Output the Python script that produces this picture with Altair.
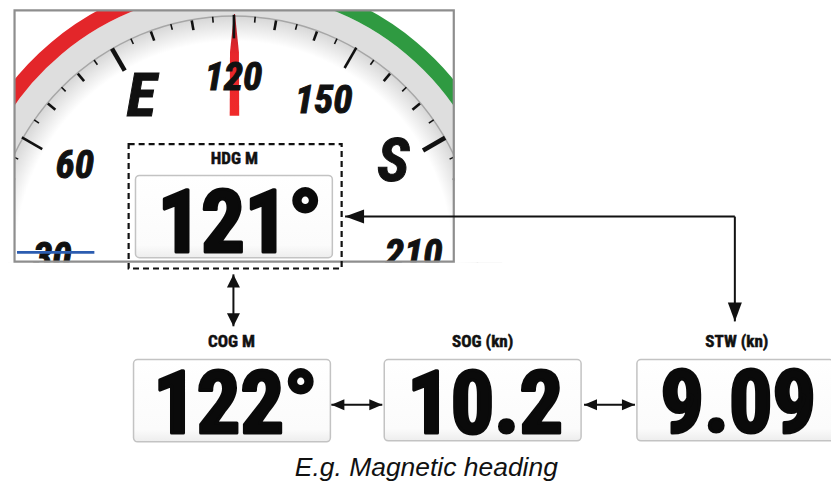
import math
import altair as alt
import pandas as pd

# ---------------- data (values shown in the illustration) ----------------
heading_value = 121
dial_labels = ["30", "60", "E", "120", "150", "S", "210"]
dial_label_headings = [30, 60, 90, 120, 150, 180, 210]
tick_headings = list(range(25, 220, 5))
readout_names = ["HDG M", "COG M", "SOG (kn)", "STW (kn)"]
readout_values = ["121°", "122°", "10.2", "9.09"]
caption_text = ["E.g. Magnetic heading"]

# ---------------- layout (reference pixel space, y downwards) ----------------
W, H = 823, 474
S = 474 / 484.0
YD = [3, 487]
XC = 423
XD = [XC - W / S / 2, XC + W / S / 2]
CX, CY = 233.5, 260.0

NARROW = "Liberation Sans Narrow, Arial Narrow, Roboto Condensed, DejaVu Sans Condensed, sans-serif"
SANS = "Liberation Sans, Arial, sans-serif"

xs = alt.Scale(domain=XD, nice=False, zero=False)
ys = alt.Scale(domain=YD, nice=False, zero=False, reverse=True)


def X(f):
    return alt.X(f, type="quantitative", scale=xs, axis=None)


def Y(f):
    return alt.Y(f, type="quantitative", scale=ys, axis=None)


def X2(f):
    return alt.X2(f)


def Y2(f):
    return alt.Y2(f)


center = pd.DataFrame({"x": [CX], "y": [CY]})


def arc(r_out, r_in, t0, t1, fill):
    return alt.Chart(center).mark_arc(
        radius=r_out * S, radius2=r_in * S,
        theta=math.radians(t0), theta2=math.radians(t1),
        fill=fill, strokeWidth=0, clip=True,
    ).encode(x=X("x"), y=Y("y"))


layers = []

# dial body
layers.append(arc(274, 0, 0, 360, "#dedede"))
layers.append(arc(290, 274, 300, 340, "#e3262a"))
layers.append(arc(290, 274, 20, 60, "#2f9a41"))
layers.append(arc(249.5, 0, 0, 360, "#a6a6a6"))
dial_fill = alt.RadialGradient(
    gradient="radial",
    stops=[alt.GradientStop(offset=0, color="#ffffff"),
           alt.GradientStop(offset=0.9, color="#ffffff"),
           alt.GradientStop(offset=1, color="#d8d8d8")],
    x1=0.5, y1=0.5, r1=0, x2=0.5, y2=0.5, r2=0.5)
layers.append(arc(248, 0, 0, 360, dial_fill))

# needle
needle = pd.DataFrame({"y": [9, 48, 113], "xl": [233.6, 229.5, 229.2], "xr": [234.6, 238.6, 238.9]})
needle_fill = alt.LinearGradient(
    gradient="linear",
    stops=[alt.GradientStop(offset=0, color="#a8202a"),
           alt.GradientStop(offset=0.4, color="#e8262b"),
           alt.GradientStop(offset=1, color="#f02a2a")],
    x1=0, y1=0, x2=0, y2=1)
layers.append(alt.Chart(needle).mark_area(orient="horizontal", fill=needle_fill, clip=True)
              .encode(y=Y("y"), x=X("xl"), x2=X2("xr")))

# ticks
rows = []
for h in tick_headings:
    if h % 90 == 0:
        r0, r1, w = 223, 249, 4.5
    elif h % 30 == 0:
        r0, r1, w = 226, 250, 2.6
    elif h % 10 == 0:
        r0, r1, w = 238, 248, 2.6
    else:
        r0, r1, w = 243, 249, 1.6
    a = math.radians(h - 120)
    rows.append({"x": CX + r0 * math.sin(a), "y": CY - r0 * math.cos(a),
                 "x2": CX + r1 * math.sin(a), "y2": CY - r1 * math.cos(a), "w": w})
ticks = pd.DataFrame(rows)
layers.append(alt.Chart(ticks).mark_rule(color="#111111", strokeCap="butt", clip=True).encode(
    x=X("x"), y=Y("y"), x2=X2("x2"), y2=Y2("y2"),
    strokeWidth=alt.StrokeWidth("w:Q", scale=None)))

# dial labels (baseline positions)
label_pos_x = [48, 71, 139, 233, 325, 396, 417]
label_pos_y = [271, 177, 113, 87, 110, 180, 267]
label_size = [40, 40, 63, 40, 40, 63, 40]
dl = pd.DataFrame({"t": dial_labels, "h": dial_label_headings, "x": label_pos_x,
                   "y": label_pos_y, "s": [v * S for v in label_size]})
layers.append(alt.Chart(dl).mark_text(font=NARROW, fontWeight="bold", fontStyle="italic",
                                      align="center", baseline="alphabetic", color="#111111",
                                      stroke="#111111", strokeWidth=1, clip=True)
              .encode(x=X("x"), y=Y("y"), text="t:N", size=alt.Size("s:Q", scale=None)))

# blue course line
blue = pd.DataFrame({"x": [12], "x2": [91], "y": [252.5]})
layers.append(alt.Chart(blue).mark_rule(color="#2b5cb0", strokeWidth=2.6, clip=True)
              .encode(x=X("x"), x2=X2("x2"), y=Y("y")))

# white covers outside the gauge frame
covers = pd.DataFrame({
    "x": [XD[0] - 5, 458.5, XD[0] - 5, XD[0] - 5],
    "x2": [9.0, 560, 560, 560],
    "y": [YD[0] - 5, YD[0] - 5, YD[0] - 5, 262.5],
    "y2": [262.5, 262.5, 5.0, 600]})
layers.append(alt.Chart(covers).mark_rect(color="white", strokeWidth=0, clip=True)
              .encode(x=X("x"), x2=X2("x2"), y=Y("y"), y2=Y2("y2")))

# gauge frame
frame = pd.DataFrame({"x": [9.5], "x2": [458], "y": [5.5], "y2": [262]})
layers.append(alt.Chart(frame).mark_rect(fill="transparent", stroke="#8e8e8e", strokeWidth=2.2, clip=True)
              .encode(x=X("x"), x2=X2("x2"), y=Y("y"), y2=Y2("y2")))

# readout boxes
box_fill = alt.LinearGradient(
    gradient="linear",
    stops=[alt.GradientStop(offset=0, color="#ffffff"),
           alt.GradientStop(offset=0.85, color="#fbfbfb"),
           alt.GradientStop(offset=1, color="#ededed")],
    x1=0, y1=0, x2=0, y2=1)
boxes = pd.DataFrame({"name": readout_names,
                      "x": [133, 131, 387, 645], "x2": [334, 332, 588, 846],
                      "y": [174, 362, 362, 362], "y2": [258, 446, 445, 445]})
layers.append(alt.Chart(boxes).mark_rect(fill=box_fill, stroke="#c3c3c3", strokeWidth=1.5,
                                         cornerRadius=4, clip=True)
              .encode(x=X("x"), x2=X2("x2"), y=Y("y"), y2=Y2("y2")))

# dashed highlight box
dash = pd.DataFrame({"x": [126], "x2": [343.5], "y": [142], "y2": [269]})
layers.append(alt.Chart(dash).mark_rect(fill="transparent", stroke="#111111", strokeWidth=2.2,
                                        strokeDash=[6, 4], clip=True)
              .encode(x=X("x"), x2=X2("x2"), y=Y("y"), y2=Y2("y2")))

# readout names and values
names = pd.DataFrame({"t": readout_names, "x": [234, 231, 487.5, 747], "y": [162, 349, 349, 349]})
layers.append(alt.Chart(names).mark_text(font=NARROW, fontWeight="bold", fontSize=17.5 * S,
                                         align="center", baseline="alphabetic", color="#111111",
                                         stroke="#111111", strokeWidth=0.5, clip=True)
              .encode(x=X("x"), y=Y("y"), text="t:N"))
vals = pd.DataFrame({"t": readout_values, "x": [239.5, 235, 490, 748.5], "y": [252, 437, 437, 436]})
layers.append(alt.Chart(vals).mark_text(font=NARROW, fontWeight="bold", fontSize=88 * S,
                                        align="center", baseline="alphabetic", color="#0a0a0a",
                                        stroke="#0a0a0a", strokeWidth=3.2, strokeJoin="round", clip=True)
              .encode(x=X("x"), y=Y("y"), text="t:N"))

# connector lines
lines = pd.DataFrame({
    "x": [233, 333, 591, 347, 745],
    "x2": [233, 385, 643, 745, 745],
    "y": [275, 408, 408, 216, 216],
    "y2": [328, 408, 408, 216, 323]})
layers.append(alt.Chart(lines).mark_rule(color="#111111", strokeWidth=2, clip=True)
              .encode(x=X("x"), x2=X2("x2"), y=Y("y"), y2=Y2("y2")))

# arrow heads (custom symbol paths in pixels: size=4 -> unit scale)
heads = pd.DataFrame({
    "x": [233, 233, 333, 385, 591, 643, 347, 745],
    "y": [275, 328, 408, 408, 408, 408, 216, 323],
    "kind": ["up_s", "down_s", "left_s", "right_s", "left_s", "right_s", "left_l", "down_l"]})
shapes = {
    "up_s": "M0,0 L-6.5,13 L6.5,13 Z",
    "down_s": "M0,0 L-6.5,-13 L6.5,-13 Z",
    "left_s": "M0,0 L13,-5.5 L13,5.5 Z",
    "right_s": "M0,0 L-13,-5.5 L-13,5.5 Z",
    "left_l": "M0,0 L19,-7 L19,7 Z",
    "down_l": "M0,0 L-7,-19 L7,-19 Z",
}
for k, path in shapes.items():
    sub = heads[heads["kind"] == k]
    layers.append(alt.Chart(sub).mark_point(shape=path, size=4, filled=True, opacity=1,
                                            color="#111111", strokeWidth=0, clip=True)
                  .encode(x=X("x"), y=Y("y")))

# caption
cap = pd.DataFrame({"t": caption_text, "x": [430], "y": [481]})
layers.append(alt.Chart(cap).mark_text(font=SANS, fontStyle="italic", fontSize=27 * S,
                                       align="center", baseline="alphabetic", color="#111111", clip=True)
              .encode(x=X("x"), y=Y("y"), text="t:N"))

chart = alt.layer(*layers).properties(
    width=W, height=H, padding=0, background="white",
    autosize=alt.AutoSizeParams(type="none"),
).configure_view(strokeWidth=0)

chart.save("out.html", embed_options={"renderer": "svg", "actions": False})
